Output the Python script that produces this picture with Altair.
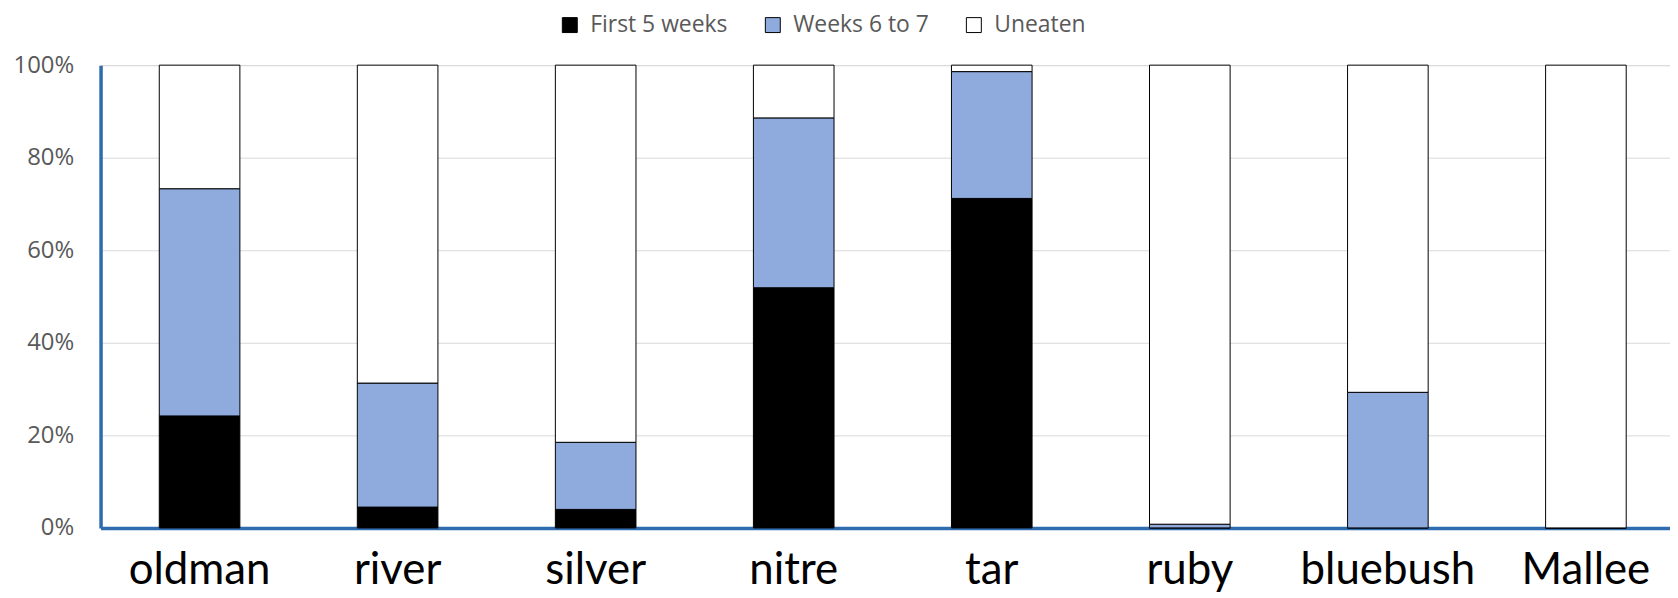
import altair as alt
import pandas as pd

categories = ["oldman", "river", "silver", "nitre", "tar", "ruby", "bluebush", "Mallee"]
series = ["First 5 weeks", "Weeks 6 to 7", "Uneaten"]
first5 = [0.242, 0.045, 0.040, 0.519, 0.712, 0.000, 0.000, 0.000]
weeks67 = [0.491, 0.268, 0.145, 0.367, 0.274, 0.008, 0.293, 0.000]
uneaten = [0.267, 0.687, 0.815, 0.114, 0.014, 0.992, 0.707, 1.000]
colors = ["#000000", "#8FAADC", "#FFFFFF"]

rows = []
for i, c in enumerate(categories):
    for k, (s, vals) in enumerate(zip(series, [first5, weeks67, uneaten])):
        rows.append({"plant": c, "series": s, "value": vals[i], "order": k})
df = pd.DataFrame(rows)

chart = (
    alt.Chart(df)
    .mark_bar(stroke="black", strokeWidth=1, size=81)
    .encode(
        x=alt.X(
            "plant:N",
            sort=categories,
            scale=alt.Scale(domain=categories, range=[0, 1592], paddingInner=0, paddingOuter=0),
            axis=alt.Axis(
                title=None,
                ticks=False,
                tickSize=0,
                labelAngle=0,
                labelFont="Lato",
                labelFontSize=44,
                labelColor="#000000",
                labelBaseline="alphabetic",
                labelPadding=56,
                labelLimit=400,
                labelOverlap=False,
                labelFlush=False,
                domainColor="#2F6BAF",
                domainWidth=3.5,
                grid=False,
            ),
        ),
        y=alt.Y(
            "value:Q",
            stack="zero",
            scale=alt.Scale(domain=[0, 1], nice=False),
            axis=alt.Axis(
                title=None,
                format=".0%",
                values=[0, 0.2, 0.4, 0.6, 0.8, 1.0],
                ticks=False,
                tickSize=0,
                labelFont="Open Sans",
                labelFontSize=24,
                labelColor="#595959",
                labelPadding=27,
                labelBaseline="middle",
                domainColor="#2F6BAF",
                domainWidth=3.5,
                grid=True,
                gridColor="#D9D9D9",
                gridWidth=1,
            ),
        ),
        color=alt.Color(
            "series:N",
            sort=series,
            scale=alt.Scale(domain=series, range=colors),
            legend=alt.Legend(
                title=None,
                orient="none",
                direction="horizontal",
                legendX=460,
                legendY=-52,
                symbolType="square",
                symbolSize=225,
                symbolStrokeColor="black",
                symbolStrokeWidth=1,
                labelFont="Open Sans",
                labelFontSize=23,
                labelColor="#595959",
                labelOffset=9,
                columnPadding=33,
                labelLimit=400,
            ),
        ),
        order=alt.Order("order:Q", sort="ascending"),
    )
    .properties(
        width=1577,
        height=465,
        autosize=alt.AutoSizeParams(type="none"),
        padding={"left": 93, "top": 56, "right": 0, "bottom": 69},
    )
    .configure_view(stroke=None)
    .configure(background="white")
)

chart.save("out.html", embed_options={"renderer": "svg", "actions": False})
